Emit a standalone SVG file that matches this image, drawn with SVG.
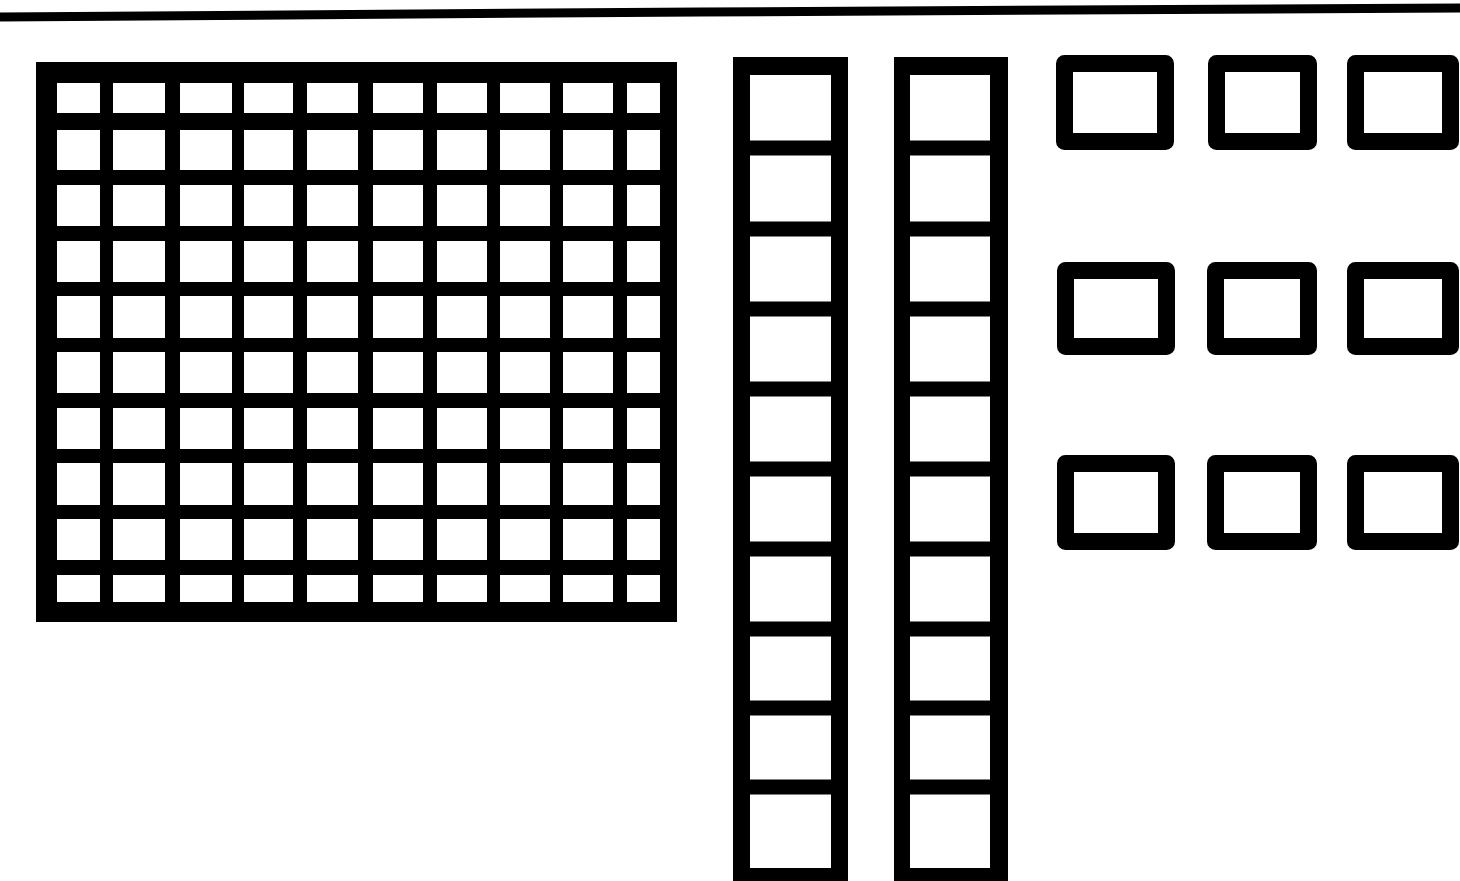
<svg xmlns="http://www.w3.org/2000/svg" width="1460" height="881" viewBox="0 0 1460 881">
<style>
.ink{fill:#000}
.paper{fill:#fff}
.unit{fill:#fff;stroke:#000;stroke-width:17;stroke-linejoin:round}
.rule{fill:none;stroke:#000;stroke-width:9;stroke-linecap:butt}
</style>
<rect x="0" y="0" width="1460" height="881" fill="#fff"/>
<polyline class="rule" points="0,17 700,12 1460,8"/>

<g id="hundred-flat">
<rect class="ink" x="36" y="62" width="641" height="560"/>
<rect class="paper" x="57" y="83" width="603" height="519"/>
<g class="ink">
<rect x="100" y="83" width="13" height="519"/>
<rect x="165" y="83" width="15" height="519"/>
<rect x="232" y="83" width="12" height="519"/>
<rect x="293" y="83" width="14" height="519"/>
<rect x="358" y="83" width="15" height="519"/>
<rect x="423" y="83" width="14" height="519"/>
<rect x="487" y="83" width="13" height="519"/>
<rect x="550" y="83" width="13" height="519"/>
<rect x="613" y="83" width="14" height="519"/>
<rect x="57" y="113" width="603" height="17"/>
<rect x="57" y="170" width="603" height="15"/>
<rect x="57" y="226" width="603" height="15"/>
<rect x="57" y="282" width="603" height="14"/>
<rect x="57" y="338" width="603" height="14"/>
<rect x="57" y="393" width="603" height="15"/>
<rect x="57" y="449" width="603" height="14"/>
<rect x="57" y="505" width="603" height="14"/>
<rect x="57" y="560" width="603" height="15"/>
</g>
</g>

<defs>
<g id="rodbars" class="ink">
<rect x="0" y="140.5" width="100" height="15"/>
<rect x="0" y="221.5" width="100" height="15"/>
<rect x="0" y="301.5" width="100" height="15"/>
<rect x="0" y="381.5" width="100" height="15"/>
<rect x="0" y="461.5" width="100" height="15"/>
<rect x="0" y="541.5" width="100" height="15"/>
<rect x="0" y="621.5" width="100" height="15"/>
<rect x="0" y="700.5" width="100" height="15"/>
<rect x="0" y="779.5" width="100" height="15"/>
</g>
</defs>

<g id="ten-rod-1">
<rect class="ink" x="733" y="57" width="115" height="840"/>
<rect class="paper" x="750" y="75" width="81" height="793"/>
<use href="#rodbars" x="740"/>
</g>

<g id="ten-rod-2">
<rect class="ink" x="894" y="57" width="114" height="840"/>
<rect class="paper" x="910" y="75" width="80" height="793"/>
<use href="#rodbars" x="900"/>
</g>

<g id="unit-1-1"><rect class="unit" x="1064.5" y="63.5" width="101" height="78"/></g>
<g id="unit-1-2"><rect class="unit" x="1216.5" y="63.5" width="92" height="78"/></g>
<g id="unit-1-3"><rect class="unit" x="1355.5" y="63.5" width="95" height="78"/></g>
<g id="unit-2-1"><rect class="unit" x="1065.5" y="270.5" width="101" height="76"/></g>
<g id="unit-2-2"><rect class="unit" x="1215.5" y="270.5" width="93" height="76"/></g>
<g id="unit-2-3"><rect class="unit" x="1355.5" y="270.5" width="95" height="76"/></g>
<g id="unit-3-1"><rect class="unit" x="1065.5" y="463.5" width="101" height="78"/></g>
<g id="unit-3-2"><rect class="unit" x="1215.5" y="463.5" width="93" height="78"/></g>
<g id="unit-3-3"><rect class="unit" x="1355.5" y="463.5" width="95" height="78"/></g>
</svg>
